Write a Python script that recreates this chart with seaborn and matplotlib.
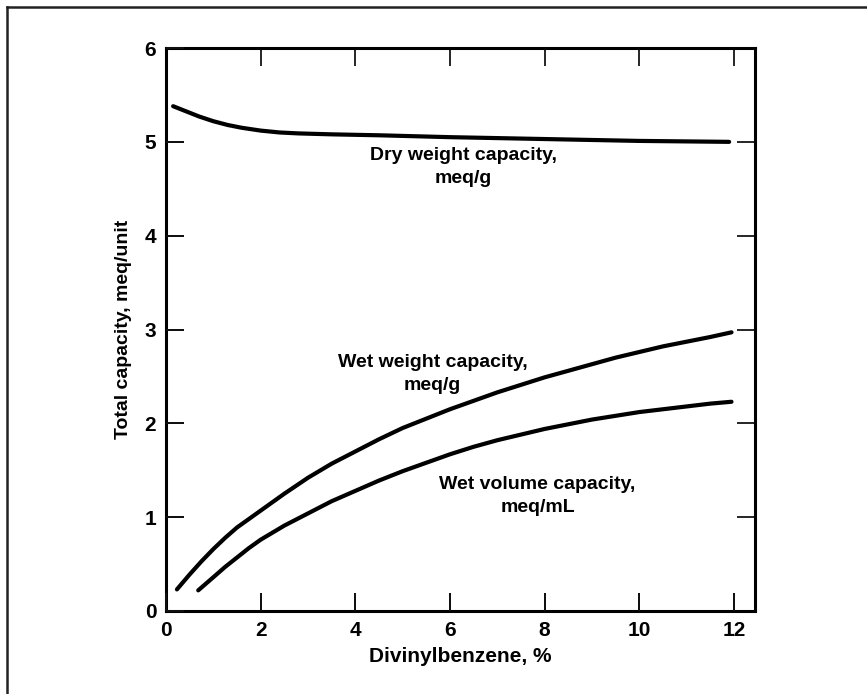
import matplotlib
matplotlib.use("Agg")
import matplotlib.pyplot as plt
from matplotlib.markers import TICKUP, TICKRIGHT
import seaborn as sns
import pandas as pd

# curve values
dry_x = [0.15, 0.4, 0.7, 1.0, 1.3, 1.6, 2.0, 2.4, 2.8, 3.5, 4.5, 6.0, 8.0, 10.0, 11.9]
dry_y = [5.38, 5.33, 5.27, 5.22, 5.18, 5.15, 5.12, 5.10, 5.09, 5.08, 5.07, 5.05, 5.03, 5.01, 5.00]

wetw_x = [0.23, 0.5, 0.75, 1.0, 1.25, 1.5, 1.75, 2.0, 2.5, 3.0, 3.5, 4.0, 4.5, 5.0,
          5.5, 6.0, 6.5, 7.0, 7.5, 8.0, 8.5, 9.0, 9.5, 10.0, 10.5, 11.0, 11.5, 11.95]
wetw_y = [0.23, 0.39, 0.53, 0.66, 0.78, 0.89, 0.98, 1.07, 1.25, 1.42, 1.57, 1.70, 1.83, 1.95,
          2.05, 2.15, 2.24, 2.33, 2.41, 2.49, 2.56, 2.63, 2.70, 2.76, 2.82, 2.87, 2.92, 2.97]

wetv_x = [0.68, 1.0, 1.25, 1.5, 1.75, 2.0, 2.5, 3.0, 3.5, 4.0, 4.5, 5.0, 5.5, 6.0,
          6.5, 7.0, 7.5, 8.0, 8.5, 9.0, 9.5, 10.0, 10.5, 11.0, 11.5, 11.95]
wetv_y = [0.22, 0.36, 0.47, 0.57, 0.67, 0.76, 0.91, 1.04, 1.17, 1.28, 1.39, 1.49, 1.58, 1.67,
          1.75, 1.82, 1.88, 1.94, 1.99, 2.04, 2.08, 2.12, 2.15, 2.18, 2.21, 2.23]

x_ticks = [0, 2, 4, 6, 8, 10, 12]
y_ticks = [0, 1, 2, 3, 4, 5, 6]

sns.set_style("ticks", {
    "xtick.direction": "in", "ytick.direction": "in",
    "xtick.bottom": True, "xtick.top": True,
    "ytick.left": True, "ytick.right": True,
})
plt.rcParams.update({
    'font.family': ['Liberation Sans', 'DejaVu Sans'],
    'font.weight': 'bold',
    'axes.labelweight': 'bold',
    'text.color': 'black',
    'axes.labelcolor': 'black',
    'xtick.labelcolor': 'black',
    'ytick.labelcolor': 'black',
    'xtick.major.size': 13, 'ytick.major.size': 13,
    'xtick.major.width': 1.4, 'ytick.major.width': 1.4,
    'xtick.major.pad': 7, 'ytick.major.pad': 7,
    'xtick.labelsize': 15, 'ytick.labelsize': 15,
})

fig = plt.figure(figsize=(8.67, 6.94), dpi=100)

# scan frame: only top and left edges show
bg = fig.add_axes([7 / 867, -0.05, 1.2, 1.05 - 7 / 694], zorder=-1)
bg.set_xticks([])
bg.set_yticks([])
bg.patch.set_alpha(0)
bg.spines['right'].set_visible(False)
bg.spines['bottom'].set_visible(False)
for side in ('left', 'top'):
    bg.spines[side].set_linewidth(1.8)
    bg.spines[side].set_color('#222222')

ax = fig.add_axes([0.1915, 0.1196, 0.6795, 0.8112])

for xs, ys in [(dry_x, dry_y), (wetw_x, wetw_y), (wetv_x, wetv_y)]:
    df = pd.DataFrame({"x": xs, "y": ys})
    sns.lineplot(data=df, x="x", y="y", ax=ax, color="black", linewidth=3.0)

ax.set_xlim(0, 12.45)
ax.set_ylim(0, 6)
ax.set_xticks(x_ticks)
ax.set_yticks(y_ticks)
for sp in ax.spines.values():
    sp.set_linewidth(2.2)
    sp.set_color("black")

# bottom/left inward tick marks, placed at the tick values on the axis edges
x0, y0 = ax.get_xlim()[0], ax.get_ylim()[0]
ax.plot(x_ticks, [y0] * len(x_ticks), linestyle="none", marker=TICKUP,
        markersize=13, markeredgewidth=1.4, color="#111111", clip_on=False, zorder=3)
ax.plot([x0] * len(y_ticks), y_ticks, linestyle="none", marker=TICKRIGHT,
        markersize=13, markeredgewidth=1.4, color="#111111", clip_on=False, zorder=3)

ax.set_xlabel("Divinylbenzene, %", fontsize=15, labelpad=5)
ax.set_ylabel("Total capacity, meq/unit", fontsize=14, labelpad=9)

txt = dict(fontsize=14, ha="center", va="center", linespacing=1.45)
ax.text(6.29, 4.73, "Dry weight capacity,\nmeq/g", **txt)
ax.text(5.63, 2.53, "Wet weight capacity,\nmeq/g", **txt)
ax.text(7.85, 1.23, "Wet volume capacity,\nmeq/mL", **txt)

fig.savefig("out.png", dpi=100)
